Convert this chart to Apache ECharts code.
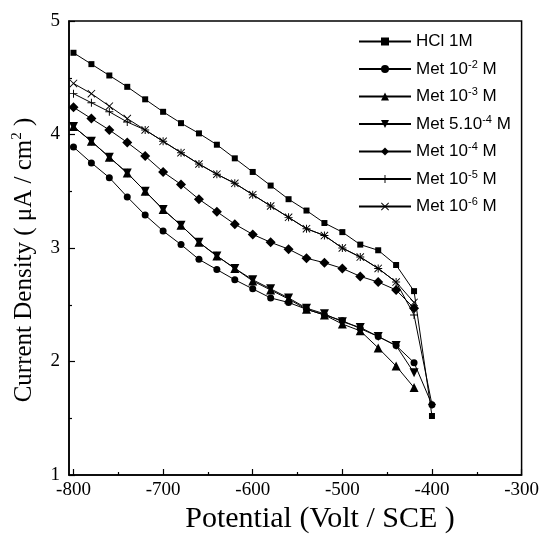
<!DOCTYPE html>
<html><head><meta charset="utf-8">
<script src="https://cdn.jsdelivr.net/npm/echarts@6/dist/echarts.min.js"></script>
<style>html,body{margin:0;padding:0;background:#fff}#c{width:542px;height:542px}</style>
</head><body><div id="c"></div>
<script>
const potentials = [-800,-780,-760,-740,-720,-700,-680,-660,-640,-620,-600,-580,-560,-540,-520,-500,-480,-460,-440,-420,-400];
const seriesNames = ['HCl 1M','Met 10-2 M','Met 10-3 M','Met 5.10-4 M','Met 10-4 M','Met 10-5 M','Met 10-6 M'];
const hcl    = [4.72,4.62,4.52,4.42,4.31,4.20,4.10,4.01,3.91,3.79,3.67,3.55,3.43,3.33,3.22,3.14,3.03,2.98,2.85,2.62,1.52];
const met1e2 = [3.89,3.75,3.62,3.45,3.29,3.15,3.03,2.90,2.81,2.72,2.64,2.56,2.52,2.46,2.41,2.36,2.29,2.22,2.14,1.99,1.62];
const met1e3 = [4.07,3.94,3.80,3.66,3.50,3.34,3.20,3.05,2.93,2.82,2.71,2.63,2.55,2.46,2.41,2.33,2.27,2.12,1.96,1.77];
const met5e4 = [4.07,3.94,3.80,3.66,3.50,3.34,3.20,3.05,2.93,2.82,2.72,2.64,2.56,2.47,2.42,2.35,2.30,2.22,2.14,1.90];
const met1e4 = [4.24,4.14,4.04,3.93,3.81,3.67,3.56,3.43,3.32,3.21,3.12,3.05,2.99,2.91,2.87,2.82,2.75,2.70,2.63,2.47];
const met1e5 = [4.36,4.28,4.20,4.11,4.04,3.94,3.84,3.74,3.65,3.57,3.47,3.37,3.27,3.17,3.11,3.00,2.92,2.82,2.70,2.41,1.62];
const met1e6 = [4.45,4.36,4.25,4.14,4.04,3.94,3.84,3.74,3.65,3.57,3.47,3.37,3.27,3.17,3.11,3.00,2.92,2.82,2.70,2.52];
const xTickLabels = [-800,-700,-600,-500,-400,-300];
const xMinorTicks = [-750,-650,-550,-450,-350];
const yTickLabels = [1,2,3,4,5];

const allValues = [hcl, met1e2, met1e3, met5e4, met1e4, met1e5, met1e6];
const legendRich = {
  'HCl 1M': '{a|HCl 1M}',
  'Met 10-2 M': '{a|Met 10}{s|-2}{a| M}',
  'Met 10-3 M': '{a|Met 10}{s|-3}{a| M}',
  'Met 5.10-4 M': '{a|Met 5.10}{s|-4}{a| M}',
  'Met 10-4 M': '{a|Met 10}{s|-4}{a| M}',
  'Met 10-5 M': '{a|Met 10}{s|-5}{a| M}',
  'Met 10-6 M': '{a|Met 10}{s|-6}{a| M}'
};
const plusPath = 'path://M4.4,0h1.2v10h-1.2z M0,4.4h10v1.2h-10z';
const crossPath = 'path://M0,0.8L0.8,0L10,9.2L9.2,10Z M9.2,0L10,0.8L0.8,10L0,9.2Z';
const markers = [
  {symbol:'rect', size:6, rot:0},
  {symbol:'circle', size:7, rot:0},
  {symbol:'triangle', size:9, rot:0},
  {symbol:'triangle', size:9, rot:180},
  {symbol:'diamond', size:10, rot:0},
  {symbol:plusPath, size:8, rot:0},
  {symbol:crossPath, size:8, rot:0}
];

const series = seriesNames.map((name, k) => ({
  name: name,
  type: 'line',
  xAxisIndex: 0, yAxisIndex: 0,
  data: allValues[k].map((v, i) => [potentials[i], v]),
  symbol: markers[k].symbol,
  symbolSize: markers[k].size,
  symbolRotate: markers[k].rot,
  showAllSymbol: true,
  lineStyle: {color:'#000', width:1},
  itemStyle: {color:'#000', borderWidth:0},
  emphasis: {disabled:true},
  animation: false,
  z: 2 + k
}));

const serif = 'Liberation Serif';
const chart = echarts.init(document.getElementById('c'), null, {renderer:'canvas'});
chart.setOption({
  animation: false,
  backgroundColor: '#fff',
  grid: {left:69, right:19, top:21, bottom:67, show:true, borderColor:'#000', borderWidth:1.5, containLabel:false},
  xAxis: [{
    type:'value', min:-805, max:-300,
    axisLine:{show:true, onZero:false, lineStyle:{color:'#000', width:1.5}},
    axisTick:{show:true, inside:true, length:6, customValues:xTickLabels, lineStyle:{color:'#000', width:1.2}},
    axisLabel:{show:true, customValues:xTickLabels, margin:6, color:'#000', fontFamily:serif, fontSize:19},
    splitLine:{show:false}
  },{
    type:'value', min:-805, max:-300, position:'bottom',
    axisLine:{show:false},
    axisTick:{show:true, inside:true, length:3, customValues:xMinorTicks, lineStyle:{color:'#000', width:1.2}},
    axisLabel:{show:false},
    splitLine:{show:false}
  }],
  yAxis: {
    type:'value', min:1, max:5, interval:1,
    axisLine:{show:true, onZero:false, lineStyle:{color:'#000', width:1.5}},
    axisTick:{show:true, inside:true, length:6, lineStyle:{color:'#000', width:1.2}},
    minorTick:{show:true, splitNumber:2, length:3, lineStyle:{color:'#000', width:1.2}},
    axisLabel:{margin:9, color:'#000', fontFamily:serif, fontSize:19},
    splitLine:{show:false}
  },
  legend: {
    orient:'vertical', left:358, top:33, padding:0, itemWidth:52, itemHeight:10, itemGap:9,
    data: seriesNames,
    formatter: n => legendRich[n],
    inactiveColor:'#000',
    selectedMode:false,
    textStyle:{
      color:'#000',
      rich:{
        a:{fontFamily:'Liberation Sans', fontSize:17, lineHeight:20, color:'#000'},
        s:{fontFamily:'Liberation Sans', fontSize:11, lineHeight:20, verticalAlign:'top', color:'#000'}
      }
    }
  },
  graphic: [
    {type:'text', x:24, y:260, rotation:Math.PI/2,
     style:{text:'{a|Current Density ( μA / cm}{s|2}{a| )}', align:'center', verticalAlign:'middle',
       rich:{a:{fontFamily:serif, fontSize:25, fill:'#000', lineHeight:29}, s:{fontFamily:serif, fontSize:15, fill:'#000', lineHeight:29, verticalAlign:'top'}}}},
    {type:'text', x:320, y:519,
     style:{text:'Potential (Volt / SCE )', align:'center', verticalAlign:'middle', fontFamily:serif, fontSize:30, fill:'#000'}}
  ],
  series: series
});
</script></body></html>
